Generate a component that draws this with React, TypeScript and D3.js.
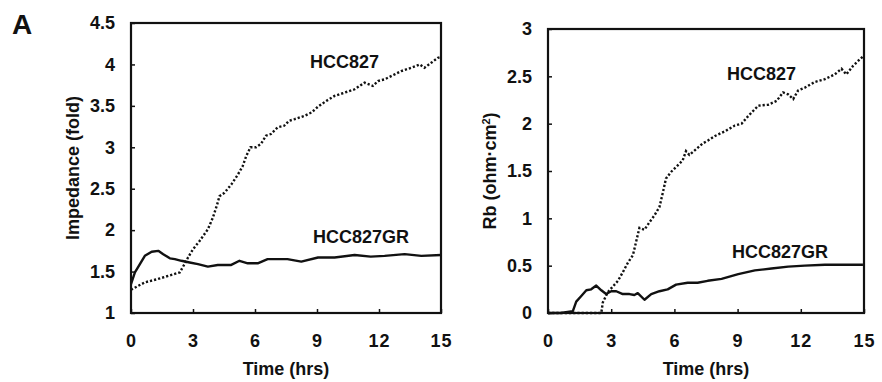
import React, { useRef, useEffect } from "react";
import * as d3 from "d3";

// Impedance (fold) panel, time in hours
const impHcc827T = [0, 0.67, 1.3, 1.96, 2.36, 2.5, 2.76, 3.0, 3.32, 3.72, 3.96, 4.17, 4.28, 4.52, 4.85, 5.17, 5.4, 5.57, 5.78, 6.05, 6.29, 6.53, 6.77, 7.09, 7.41, 7.65, 7.92, 8.4, 8.73, 9.05, 9.45, 9.85, 10.34, 10.82, 11.3, 11.7, 11.95, 12.27, 12.76, 13.08, 13.56, 13.97, 14.2, 14.53, 14.85, 15];
const impHcc827V = [1.28, 1.37, 1.41, 1.46, 1.49, 1.55, 1.67, 1.77, 1.87, 2.01, 2.15, 2.31, 2.41, 2.45, 2.55, 2.67, 2.77, 2.89, 3.0, 3.0, 3.04, 3.14, 3.16, 3.24, 3.26, 3.32, 3.34, 3.38, 3.42, 3.49, 3.56, 3.62, 3.66, 3.7, 3.78, 3.74, 3.8, 3.82, 3.88, 3.92, 3.96, 4.0, 3.96, 4.02, 4.08, 4.09];
const impGrT = [0, 0.19, 0.43, 0.67, 1.0, 1.32, 1.56, 1.88, 2.12, 2.44, 2.84, 3.24, 3.72, 4.2, 4.85, 5.25, 5.65, 6.13, 6.61, 7.09, 7.57, 8.24, 9.05, 9.85, 10.82, 11.6, 12.27, 13.24, 14.05, 15];
const impGrV = [1.35, 1.49, 1.59, 1.69, 1.74, 1.75, 1.71, 1.66, 1.65, 1.63, 1.61, 1.59, 1.56, 1.58, 1.58, 1.63, 1.6, 1.6, 1.65, 1.65, 1.65, 1.62, 1.67, 1.67, 1.7, 1.68, 1.69, 1.71, 1.69, 1.7];

// Rb panel
const rbHcc827T = [0, 1.0, 2.0, 2.53, 2.6, 2.84, 3.08, 3.32, 3.55, 3.79, 4.03, 4.18, 4.34, 4.58, 4.82, 5.05, 5.29, 5.45, 5.6, 5.84, 6.16, 6.39, 6.55, 6.71, 7.03, 7.34, 7.58, 7.93, 8.4, 8.87, 9.19, 9.5, 9.98, 10.45, 10.85, 11.16, 11.4, 11.64, 11.87, 12.19, 12.66, 13.14, 13.61, 13.93, 14.16, 14.48, 14.8, 14.95];
const rbHcc827V = [0, 0, 0, 0, 0.11, 0.22, 0.28, 0.34, 0.43, 0.53, 0.61, 0.75, 0.9, 0.88, 0.96, 1.03, 1.12, 1.27, 1.42, 1.49, 1.56, 1.61, 1.71, 1.67, 1.73, 1.79, 1.82, 1.87, 1.92, 1.98, 2.0, 2.08, 2.19, 2.2, 2.24, 2.33, 2.31, 2.26, 2.35, 2.38, 2.44, 2.47, 2.52, 2.58, 2.52, 2.61, 2.68, 2.71];
const rbGrT = [0, 0.6, 1.18, 1.34, 1.58, 1.82, 2.05, 2.29, 2.53, 2.76, 3.0, 3.24, 3.55, 3.87, 4.1, 4.26, 4.58, 4.9, 5.29, 5.68, 6.08, 6.63, 7.1, 7.58, 8.24, 9.03, 9.82, 10.61, 11.4, 12.19, 13.14, 14.08, 14.95];
const rbGrV = [0, 0, 0.02, 0.12, 0.18, 0.24, 0.25, 0.29, 0.24, 0.2, 0.23, 0.23, 0.2, 0.2, 0.19, 0.21, 0.14, 0.2, 0.23, 0.25, 0.3, 0.32, 0.32, 0.34, 0.36, 0.41, 0.45, 0.47, 0.49, 0.5, 0.51, 0.51, 0.51];

const timeTicks = [0, 3, 6, 9, 12, 15];
const impTicks = [1, 1.5, 2, 2.5, 3, 3.5, 4, 4.5];
const rbTicks = [0, 0.5, 1, 1.5, 2, 2.5, 3];

const FONT = "'Liberation Sans', Arial, sans-serif";

function Panel({ box, yDomain, yTicks, hcc827, gr, labelA, labelB, yTitle }) {
  const gRef = useRef();

  useEffect(() => {
    const g = d3.select(gRef.current);
    g.selectAll("*").remove();
    const { x0, x1, y0, y1 } = box;

    const xScale = d3.scaleLinear().domain([0, 15]).range([x0, x1]);
    const yScale = d3.scaleLinear().domain(yDomain).range([y1, y0]);

    const xAxis = d3.axisBottom(xScale).tickValues(timeTicks).tickFormat(d3.format("d"))
      .tickSizeInner(-4).tickSizeOuter(0).tickPadding(21);
    const yAxis = d3.axisLeft(yScale).tickValues(yTicks).tickFormat((d) => String(d))
      .tickSizeInner(-4).tickSizeOuter(0).tickPadding(16);

    const xg = g.append("g").attr("transform", `translate(0,${y1})`).call(xAxis);
    const yg = g.append("g").attr("transform", `translate(${x0},0)`).call(yAxis);
    [xg, yg].forEach((a) => {
      a.select(".domain").remove();
      a.selectAll("line").attr("stroke", "#111").attr("stroke-width", 1.5);
      a.selectAll("text")
        .attr("fill", "#111")
        .style("font-family", FONT)
        .style("font-size", "18px")
        .style("font-weight", "bold");
    });
    xg.selectAll("text").style("letter-spacing", "1px");

    g.append("rect")
      .attr("x", x0).attr("y", y0)
      .attr("width", x1 - x0).attr("height", y1 - y0)
      .attr("fill", "none").attr("stroke", "#111").attr("stroke-width", 2.2);

    const line = d3.line().x((d) => xScale(d[0])).y((d) => yScale(d[1]));

    g.append("path")
      .datum(d3.zip(gr.t, gr.v))
      .attr("d", line)
      .attr("fill", "none")
      .attr("stroke", "#111")
      .attr("stroke-width", 2.4)
      .attr("stroke-linejoin", "round");

    g.append("path")
      .datum(d3.zip(hcc827.t, hcc827.v))
      .attr("d", line)
      .attr("fill", "none")
      .attr("stroke", "#111")
      .attr("stroke-width", 2.4)
      .attr("stroke-dasharray", "2.2,2");

    const lbl = (txt, pos) =>
      g.append("text")
        .attr("x", pos[0]).attr("y", pos[1])
        .attr("fill", "#111")
        .style("font-family", FONT)
        .style("font-size", "18px")
        .style("font-weight", "bold")
        .text(txt);

    lbl("HCC827", labelA);
    lbl("HCC827GR", labelB);

    g.append("text")
      .attr("x", (x0 + x1) / 2).attr("y", 375)
      .attr("text-anchor", "middle")
      .attr("fill", "#111")
      .style("font-family", FONT)
      .style("font-size", "18px")
      .style("font-weight", "bold")
      .text("Time (hrs)");

    const yt = g.append("text")
      .attr("transform", `translate(${yTitle.x},${(y0 + y1) / 2}) rotate(-90)`)
      .attr("text-anchor", "middle")
      .attr("fill", "#111")
      .style("font-family", FONT)
      .style("font-size", "18px")
      .style("font-weight", "bold");
    yTitle.parts.forEach((p) => {
      const s = yt.append("tspan").text(p.text);
      if (p.sup) s.attr("baseline-shift", "super").style("font-size", "11px");
    });
  }, []);

  return <g ref={gRef}></g>;
}

function App() {
  return (
    <svg width={882} height={382} style={{ position: "absolute", left: 0, top: 0, background: "#fff" }}>
      <text x={12} y={34} style={{ fontFamily: FONT, fontSize: 28, fontWeight: "bold" }} fill="#111">A</text>
      <Panel
        box={{ x0: 131, x1: 441, y0: 23, y1: 313 }}
        yDomain={[1, 4.5]}
        yTicks={impTicks}
        hcc827={{ t: impHcc827T, v: impHcc827V }}
        gr={{ t: impGrT, v: impGrV }}
        labelA={[310, 68]}
        labelB={[313, 243]}
        yTitle={{ x: 79, parts: [{ text: "Impedance (fold)" }] }}
      />
      <Panel
        box={{ x0: 548, x1: 864, y0: 29, y1: 313 }}
        yDomain={[0, 3]}
        yTicks={rbTicks}
        hcc827={{ t: rbHcc827T, v: rbHcc827V }}
        gr={{ t: rbGrT, v: rbGrV }}
        labelA={[727, 80]}
        labelB={[732, 258]}
        yTitle={{ x: 496, parts: [{ text: "Rb (ohm·cm" }, { text: "2", sup: true }, { text: ")" }] }}
      />
    </svg>
  );
}

export default App;
